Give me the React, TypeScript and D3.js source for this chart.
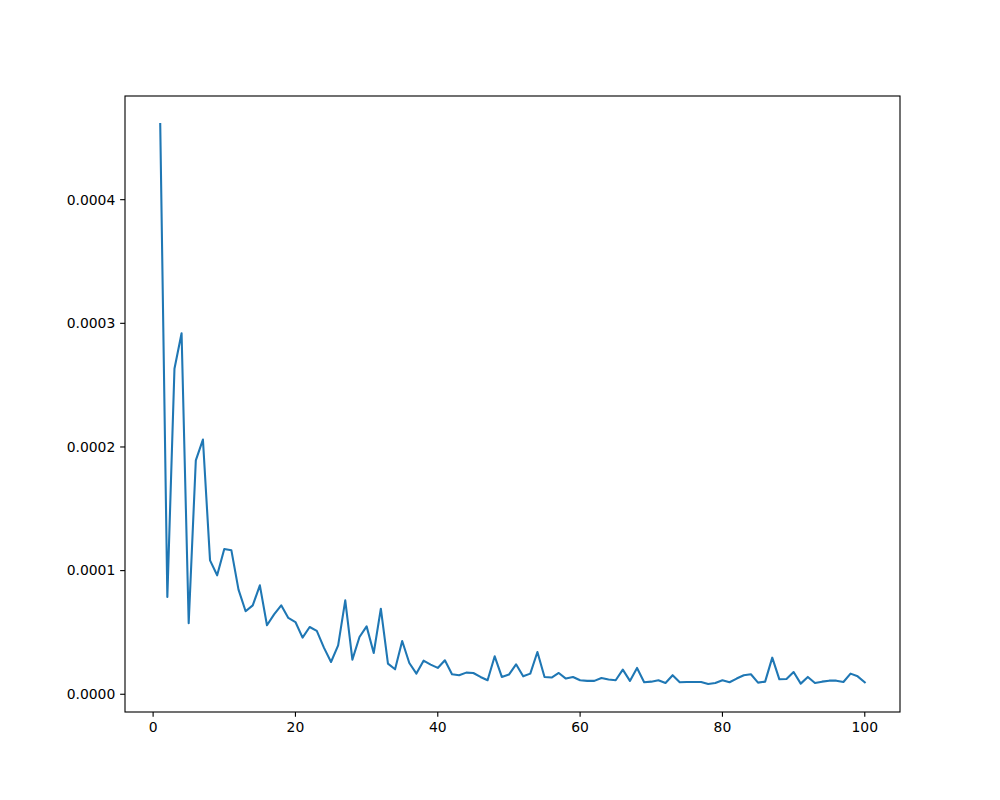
import React from "react";
import * as d3 from "d3";

const xValues: number[] = d3.range(1, 101);
const yValues: number[] = [
  4.612, 0.786, 2.632, 2.92, 0.574, 1.891, 2.06, 1.083, 0.962, 1.174,
  1.164, 0.846, 0.671, 0.719, 0.881, 0.558, 0.646, 0.719, 0.617, 0.584,
  0.458, 0.544, 0.512, 0.377, 0.261, 0.396, 0.76, 0.28, 0.463, 0.549,
  0.334, 0.692, 0.248, 0.202, 0.431, 0.253, 0.167, 0.272, 0.24, 0.213,
  0.275, 0.162, 0.154, 0.175, 0.172, 0.14, 0.113, 0.307, 0.14, 0.159,
  0.242, 0.145, 0.167, 0.342, 0.14, 0.135, 0.172, 0.127, 0.14, 0.113,
  0.108, 0.108, 0.132, 0.119, 0.113, 0.199, 0.108, 0.213, 0.097, 0.102,
  0.113, 0.091, 0.154, 0.097, 0.099, 0.099, 0.099, 0.083, 0.091, 0.113,
  0.097, 0.127, 0.154, 0.162, 0.094, 0.102, 0.296, 0.121, 0.124, 0.18,
  0.086, 0.14, 0.091, 0.102, 0.11, 0.11, 0.099, 0.167, 0.145, 0.097,
].map((v) => v * 1e-4);
const xTicks: number[] = [0, 20, 40, 60, 80, 100];
const yTicks: number[] = [0, 0.0001, 0.0002, 0.0003, 0.0004];

const W = 1000;
const H = 800;
const left = 125;
const right = 900;
const top = 96;
const bottom = 712;

export default function App() {
  const [x0, x1] = d3.extent(xValues) as [number, number];
  const xp = (x1 - x0) * 0.05;
  const [y0, y1] = d3.extent(yValues) as [number, number];
  const yp = (y1 - y0) * 0.05;
  const x = d3.scaleLinear().domain([x0 - xp, x1 + xp]).range([left, right]);
  const y = d3.scaleLinear().domain([y0 - yp, y1 + yp]).range([bottom, top]);
  const line = d3
    .line<number>()
    .x((_, i) => x(xValues[i]))
    .y((d) => y(d));
  const tickLen = 4.86;
  const font = "DejaVu Sans, sans-serif";
  const fs = 13.9;
  return (
    <svg
      width={W}
      height={H}
      style={{ position: "absolute", left: 0, top: 0, background: "#fff" }}
    >
      <rect x={0} y={0} width={W} height={H} fill="#fff" />
      <path
        d={line(yValues) || ""}
        fill="none"
        stroke="#1f77b4"
        strokeWidth={2.08}
        strokeLinejoin="round"
        strokeLinecap="square"
      />
      <rect
        x={left}
        y={top}
        width={right - left}
        height={bottom - top}
        fill="none"
        stroke="#000"
        strokeWidth={1.11}
      />
      {xTicks.map((t) => (
        <g key={"x" + t}>
          <line x1={x(t)} x2={x(t)} y1={bottom} y2={bottom + tickLen} stroke="#000" strokeWidth={1.11} />
          <text
            x={x(t)}
            y={bottom + tickLen + 4.86}
            dy="0.76em"
            textAnchor="middle"
            fontFamily={font}
            fontSize={fs}
            fill="#000"
          >
            {d3.format("d")(t)}
          </text>
        </g>
      ))}
      {yTicks.map((t) => (
        <g key={"y" + t}>
          <line x1={left - tickLen} x2={left} y1={y(t)} y2={y(t)} stroke="#000" strokeWidth={1.11} />
          <text
            x={left - tickLen - 4.86}
            y={y(t)}
            dy="0.35em"
            textAnchor="end"
            fontFamily={font}
            fontSize={fs}
            fill="#000"
          >
            {d3.format(".4f")(t)}
          </text>
        </g>
      ))}
    </svg>
  );
}
